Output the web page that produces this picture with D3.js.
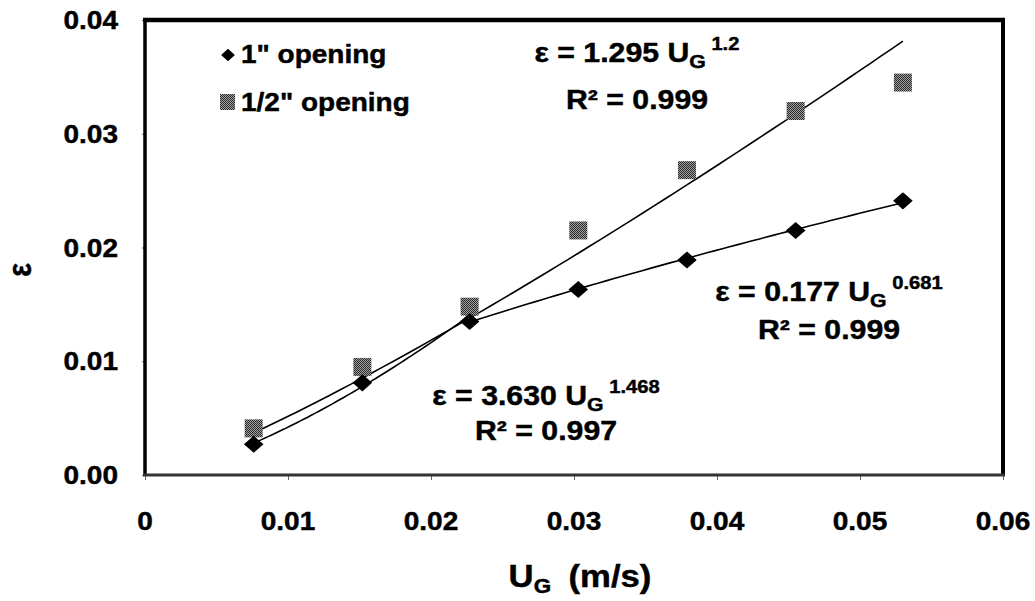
<!DOCTYPE html>
<html>
<head>
<meta charset="utf-8">
<script src="https://cdn.jsdelivr.net/npm/d3@7"></script>
<style>
  html, body { margin: 0; padding: 0; background: #fff; }
  svg { display: block; }
  text { font-family: "Liberation Sans", Arial, sans-serif; font-weight: bold; fill: #000;
         stroke: #000; stroke-width: 0.45px; }
</style>
</head>
<body>
<script>
// Gas velocity (m/s) and gas holdup for the two plate openings
const ugValues = [0.0076, 0.0152, 0.0227, 0.0303, 0.0379, 0.0455, 0.0530];
const eps1inch = [0.0027, 0.0081, 0.0135, 0.0163, 0.0189, 0.0215, 0.0241];
const epsHalfInch = [0.0041, 0.0095, 0.0148, 0.0215, 0.0268, 0.0320, 0.0345];

// Power-law fits  eps = a * U_G ^ b
const fitCoef = [3.630, 0.177, 1.295];
const fitExp = [1.468, 0.681, 1.2];
const fitR2 = ["0.997", "0.999", "0.999"];
const fitFrom = [0.0076, 0.0227, 0.0076];
const fitTo = [0.0227, 0.0530, 0.0530];

const xTickValues = [0, 0.01, 0.02, 0.03, 0.04, 0.05, 0.06];
const xTickLabels = ["0", "0.01", "0.02", "0.03", "0.04", "0.05", "0.06"];
const yTickValues = [0, 0.01, 0.02, 0.03, 0.04];
const yTickLabels = ["0.00", "0.01", "0.02", "0.03", "0.04"];
const legendLabels = ["1\" opening", "1/2\" opening"];

const W = 1035, H = 601;
const plot = { left: 145, right: 1003, top: 20, bottom: 475 };
const SX = 1.12; // horizontal stretch of all lettering

const svg = d3.select("body").append("svg").attr("width", W).attr("height", H);

// dithered grey fill for the square markers
const defs = svg.append("defs");
const pat = defs.append("pattern").attr("id", "dither")
  .attr("width", 2).attr("height", 2).attr("patternUnits", "userSpaceOnUse");
pat.append("rect").attr("width", 2).attr("height", 2).attr("fill", "#a0a0a0");
pat.append("rect").attr("width", 1).attr("height", 1).attr("fill", "#2a2a2a");
pat.append("rect").attr("x", 1).attr("y", 1).attr("width", 1).attr("height", 1).attr("fill", "#2a2a2a");

const x = d3.scaleLinear().domain([0, 0.06]).range([plot.left, plot.right]);
const y = d3.scaleLinear().domain([0, 0.04]).range([plot.bottom, plot.top]);

// stretched text helper
function label(g, px, py, anchor, size) {
  return g.append("g").attr("transform", `translate(${px},${py}) scale(${SX},1)`)
    .append("text").attr("text-anchor", anchor).attr("font-size", size);
}

// axes (ticks only; labels drawn separately)
const xAxis = d3.axisBottom(x).tickValues(xTickValues).tickSize(5).tickFormat("");
svg.append("g").attr("transform", `translate(0,${plot.bottom})`).call(xAxis)
  .call(g => g.select(".domain").remove())
  .call(g => g.selectAll(".tick line").attr("stroke", "#666").attr("stroke-width", 1));
const yAxis = d3.axisLeft(y).tickValues(yTickValues).tickSize(3).tickFormat("");
svg.append("g").attr("transform", `translate(${plot.left},0)`).call(yAxis)
  .call(g => g.select(".domain").remove())
  .call(g => g.selectAll(".tick line").attr("stroke", "#666").attr("stroke-width", 1));

// tick labels
const tl = svg.append("g");
xTickValues.forEach((v, i) => {
  label(tl, x(v), 530, "middle", 25).text(xTickLabels[i]);
});
yTickValues.forEach((v, i) => {
  label(tl, 118, y(v) + 9, "end", 25).text(yTickLabels[i]);
});

// axis titles
svg.append("g").attr("transform", `translate(31,270) rotate(-90) scale(1,${SX})`)
  .append("text").attr("text-anchor", "middle").attr("font-size", 29).text("ε");
const xt = label(svg, 580, 587, "middle", 31);
xt.append("tspan").text("U");
xt.append("tspan").attr("font-size", 20).attr("dy", 6).text("G");
xt.append("tspan").attr("dy", -6).text("\u2002(m/s)");

// plot frame
const frame = svg.append("g");
frame.append("line").attr("x1", plot.left).attr("x2", plot.left).attr("y1", plot.top).attr("y2", plot.bottom)
  .attr("stroke", "#000").attr("stroke-width", 3.5);
frame.append("line").attr("x1", plot.left - 2).attr("x2", plot.right + 2).attr("y1", plot.top).attr("y2", plot.top)
  .attr("stroke", "#000").attr("stroke-width", 4.5);
frame.append("line").attr("x1", plot.right).attr("x2", plot.right).attr("y1", plot.top).attr("y2", plot.bottom)
  .attr("stroke", "#000").attr("stroke-width", 4);
frame.append("line").attr("x1", plot.left - 2).attr("x2", plot.right + 2).attr("y1", plot.bottom).attr("y2", plot.bottom)
  .attr("stroke", "#333").attr("stroke-width", 3);

// fitted curves
const line = d3.line().x(d => x(d[0])).y(d => y(d[1]));
fitCoef.forEach((a, i) => {
  const pts = d3.range(0, 61).map(k => {
    const u = fitFrom[i] + (fitTo[i] - fitFrom[i]) * k / 60;
    return [u, a * Math.pow(u, fitExp[i])];
  });
  svg.append("path").attr("d", line(pts)).attr("fill", "none")
    .attr("stroke", "#000").attr("stroke-width", 1.6);
});

// markers
const diamond = d3.symbol().type(d3.symbolDiamond2);
svg.append("g").selectAll("rect").data(ugValues).join("rect")
  .attr("x", (d, i) => x(d) - 9).attr("y", (d, i) => y(epsHalfInch[i]) - 9)
  .attr("width", 18).attr("height", 18).attr("fill", "url(#dither)");
svg.append("g").selectAll("path").data(ugValues).join("path")
  .attr("transform", (d, i) => `translate(${x(d)},${y(eps1inch[i])}) scale(1.15,1)`)
  .attr("d", diamond.size(185)()).attr("fill", "#000");

// legend
const lg = svg.append("g");
lg.append("path").attr("transform", "translate(228,55) scale(1.1,1)").attr("d", d3.symbol().type(d3.symbolDiamond2).size(100)()).attr("fill", "#000");
label(lg, 241, 63, "start", 25).text(legendLabels[0]);
lg.append("rect").attr("x", 220).attr("y", 94).attr("width", 15).attr("height", 16).attr("fill", "url(#dither)");
label(lg, 241, 111, "start", 25).text(legendLabels[1]);

// fit equations
const eqPos = [[546, 405, 440], [829, 301, 339], [637, 62, 109]];
fitCoef.forEach((a, i) => {
  const [cx, by, ry] = eqPos[i];
  const t = label(svg, cx, by, "middle", 27);
  t.append("tspan").text(`ε = ${a.toFixed(3)} U`);
  t.append("tspan").attr("font-size", 19).attr("dy", 6).text("G");
  t.append("tspan").attr("font-size", 18).attr("dy", -18).text(` ${fitExp[i]}`);
  label(svg, cx, ry, "middle", 27).text(`R² = ${fitR2[i]}`);
});
</script>
</body>
</html>
